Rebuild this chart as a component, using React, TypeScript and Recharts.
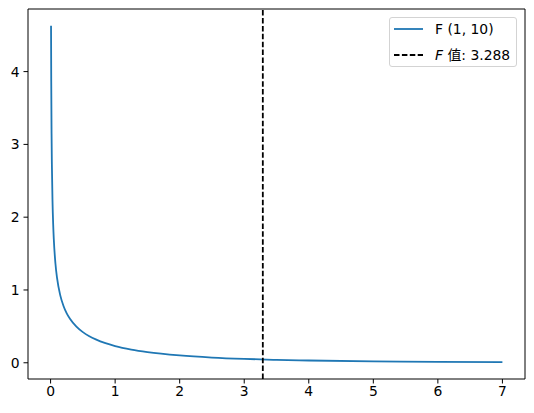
import React from 'react';
import { LineChart, Line, XAxis, YAxis, ReferenceLine } from 'recharts';

const xValues = [0.007, 0.01, 0.015, 0.02, 0.03, 0.04, 0.05, 0.075, 0.1, 0.15, 0.2, 0.25, 0.3, 0.4, 0.5, 0.6, 0.7, 0.85, 1.0, 1.25, 1.5, 2.0, 2.5, 3.0, 3.5, 4.0, 5.0, 6.0, 7.0];
const densityValues = [4.63, 3.87, 3.151, 2.721, 2.21, 1.903, 1.693, 1.364, 1.165, 0.926, 0.780, 0.679, 0.604, 0.496, 0.421, 0.365, 0.321, 0.269, 0.230, 0.182, 0.147, 0.101, 0.072, 0.053, 0.040, 0.031, 0.019, 0.012, 0.008];
const xTicks = [0, 1, 2, 3, 4, 5, 6, 7];
const yTicks = [0, 1, 2, 3, 4];
const xDomain = [-0.35, 7.35];
const yDomain = [-0.223, 4.86];
const fValue = 3.288;
const seriesName = 'F (1, 10)';
const refLabel = '值: 3.288';

const data = xValues.map((x, i) => ({ x, y: densityValues[i] }));

const FONT = '"DejaVu Sans", "Noto Sans CJK SC", sans-serif';
const tickStyle = { fontSize: 13.9, fill: '#000', fontFamily: FONT };

export default function App() {
  return (
    <div style={{ position: 'absolute', left: 0, top: 0, width: 534, height: 413, background: '#fff' }}>
      <LineChart width={534} height={413} data={data} margin={{ top: 9, right: 9, left: 0, bottom: 0 }}>
        <XAxis
          dataKey="x"
          type="number"
          domain={xDomain}
          ticks={xTicks}
          allowDataOverflow
          height={34}
          tickSize={4.5}
          tickMargin={3}
          stroke="#000"
          tick={tickStyle}
          axisLine={{ stroke: '#000', strokeWidth: 1 }}
          tickLine={{ stroke: '#000', strokeWidth: 1 }}
        />
        <YAxis
          type="number"
          domain={yDomain}
          ticks={yTicks}
          allowDataOverflow
          width={28}
          tickSize={4.5}
          tickMargin={4}
          stroke="#000"
          tick={tickStyle}
          axisLine={{ stroke: '#000', strokeWidth: 1 }}
          tickLine={{ stroke: '#000', strokeWidth: 1 }}
        />
        <ReferenceLine y={yDomain[1]} stroke="#000" strokeWidth={1} />
        <ReferenceLine x={xDomain[1]} stroke="#000" strokeWidth={1} />
        <Line
          type="monotone"
          dataKey="y"
          stroke="#1f77b4"
          strokeWidth={1.8}
          dot={false}
          isAnimationActive={false}
        />
        <ReferenceLine x={fValue} stroke="#000" strokeWidth={1.8} strokeDasharray="5.5 2.4" />
      </LineChart>
      <div
        style={{
          position: 'absolute',
          left: 389,
          top: 17,
          width: 128,
          height: 50,
          boxSizing: 'border-box',
          border: '1px solid #d3d3d3',
          borderRadius: 3,
          background: 'rgba(255,255,255,0.8)',
          fontFamily: FONT,
          fontSize: 13.9,
          color: '#000',
        }}
      >
        <div style={{ position: 'absolute', left: 4, top: 3, display: 'flex', alignItems: 'center', height: 16 }}>
          <svg width={30} height={4} style={{ display: 'block' }}>
            <line x1={0} y1={2} x2={29} y2={2} stroke="#1f77b4" strokeWidth={1.8} />
          </svg>
          <span style={{ marginLeft: 11, whiteSpace: 'nowrap', lineHeight: '16px' }}>{seriesName}</span>
        </div>
        <div style={{ position: 'absolute', left: 4, top: 29, display: 'flex', alignItems: 'center', height: 16 }}>
          <svg width={30} height={4} style={{ display: 'block' }}>
            <line x1={0} y1={2} x2={29} y2={2} stroke="#000" strokeWidth={1.8} strokeDasharray="5.5 2.4" />
          </svg>
          <span style={{ marginLeft: 11, whiteSpace: 'nowrap', lineHeight: '16px' }}>
            <i>F</i> {refLabel}
          </span>
        </div>
      </div>
    </div>
  );
}
